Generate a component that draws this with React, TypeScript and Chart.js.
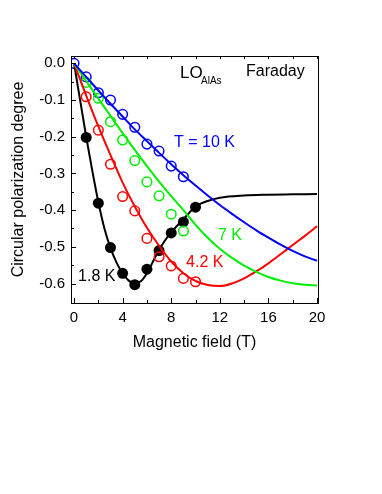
import React, { useEffect, useRef } from 'react';
import { Chart, registerables } from 'chart.js';

Chart.register(...registerables);

// ---- data ----
const fieldMeasured10K = [0, 1, 2, 3, 4, 5, 6, 7, 8, 9];
const polarization10K = [0, -0.037, -0.08, -0.1, -0.139, -0.174, -0.22, -0.239, -0.28, -0.309];

const fieldMeasured7K = [1, 2, 3, 4, 5, 6, 7, 8, 9];
const polarization7K = [-0.052, -0.095, -0.159, -0.209, -0.265, -0.323, -0.361, -0.411, -0.457];

const fieldMeasured42K = [1, 2, 3, 4, 5, 6, 7, 8, 9, 10];
const polarization42K = [-0.091, -0.182, -0.275, -0.363, -0.402, -0.477, -0.527, -0.552, -0.586, -0.595];

const fieldMeasured18K = [1, 2, 3, 4, 5, 6, 7, 8, 9, 10];
const polarization18K = [-0.202, -0.381, -0.502, -0.572, -0.603, -0.561, -0.51, -0.462, -0.432, -0.392];

const fitField = [0, 1, 2, 3, 4, 5, 6, 7, 8, 9, 10, 11, 12, 13, 14, 15, 16, 17, 18, 19, 20];
const fit10K = [0, -0.037, -0.074, -0.11, -0.145, -0.18, -0.212, -0.244, -0.275, -0.305, -0.333, -0.36, -0.386, -0.41, -0.433, -0.455, -0.475, -0.494, -0.511, -0.526, -0.538];
const fit7K = [0, -0.048, -0.096, -0.143, -0.19, -0.236, -0.28, -0.322, -0.362, -0.4, -0.44, -0.475, -0.505, -0.53, -0.551, -0.568, -0.582, -0.592, -0.599, -0.603, -0.605];
const fit42K = [0, -0.088, -0.172, -0.25, -0.325, -0.39, -0.448, -0.497, -0.54, -0.572, -0.593, -0.604, -0.607, -0.6, -0.586, -0.567, -0.545, -0.52, -0.495, -0.47, -0.444];

const fitField18K = [0, 0.5, 1, 1.5, 2, 2.5, 3, 3.5, 4, 4.5, 5, 5.5, 6, 6.5, 7, 7.5, 8, 9, 10, 11, 12, 14, 16, 18, 20];
const fit18K = [0, -0.1, -0.2, -0.292, -0.378, -0.45, -0.503, -0.543, -0.572, -0.592, -0.6, -0.594, -0.572, -0.54, -0.508, -0.482, -0.46, -0.425, -0.39, -0.375, -0.366, -0.36, -0.358, -0.357, -0.356];

const xMajorTicks = [0, 4, 8, 12, 16, 20];
const xMinorTicks = [2, 6, 10, 14, 18];
const yMajorTicks = [0, -0.1, -0.2, -0.3, -0.4, -0.5, -0.6];
const yMinorTicks = [-0.05, -0.15, -0.25, -0.35, -0.45, -0.55];

const FONT = '"Liberation Sans", Arial, sans-serif';
const GREEN = '#00ee00';

const zip = (xs: number[], ys: number[]) => xs.map((x, i) => ({ x, y: ys[i] }));

const framePlugin = {
  id: 'frameAndLabels',
  afterDraw(chart: any) {
    const { ctx, chartArea, scales } = chart;
    const xs = scales.x;
    const ys = scales.y;
    const { left, right, top, bottom } = chartArea;
    ctx.save();
    ctx.strokeStyle = '#000';
    ctx.lineWidth = 1;
    ctx.strokeRect(Math.round(left) + 0.5, Math.round(top) + 0.5, Math.round(right - left), Math.round(bottom - top));
    ctx.beginPath();
    xMajorTicks.forEach((v) => {
      const px = Math.round(xs.getPixelForValue(v)) + 0.5;
      ctx.moveTo(px, bottom);
      ctx.lineTo(px, bottom - 5);
      ctx.moveTo(px, top);
      ctx.lineTo(px, top + 3);
    });
    xMinorTicks.forEach((v) => {
      const px = Math.round(xs.getPixelForValue(v)) + 0.5;
      ctx.moveTo(px, bottom);
      ctx.lineTo(px, bottom - 3);
      ctx.moveTo(px, top);
      ctx.lineTo(px, top + 3);
    });
    yMajorTicks.forEach((v) => {
      const py = Math.round(ys.getPixelForValue(v)) + 0.5;
      ctx.moveTo(left, py);
      ctx.lineTo(left + 5, py);
    });
    yMinorTicks.forEach((v) => {
      const py = Math.round(ys.getPixelForValue(v)) + 0.5;
      ctx.moveTo(left, py);
      ctx.lineTo(left + 3, py);
    });
    ctx.stroke();

    const text = (s: string, x: number, y: number, color: string, size: number) => {
      ctx.fillStyle = color;
      ctx.font = `${size}px ${FONT}`;
      ctx.textAlign = 'left';
      ctx.textBaseline = 'middle';
      ctx.fillText(s, xs.getPixelForValue(x), ys.getPixelForValue(y));
    };
    text('LO', 8.72, -0.026, '#000', 17);
    text('AlAs', 10.45, -0.05, '#000', 10);
    text('Faraday', 14.16, -0.023, '#000', 16);
    text('T = 10 K', 8.23, -0.217, '#0000ff', 16);
    text('7 K', 11.85, -0.47, GREEN, 16);
    text('4.2 K', 9.22, -0.544, '#ff0000', 16);
    text('1.8 K', 0.33, -0.581, '#000', 16);
    ctx.restore();
  },
};

export default function App() {
  const ref = useRef<HTMLCanvasElement>(null);
  useEffect(() => {
    if (!ref.current) return;
    const lineDs = (label: string, xs: number[], ys: number[], color: string) => ({
      label,
      data: zip(xs, ys),
      showLine: true,
      borderColor: color,
      borderWidth: 2,
      pointRadius: 0,
      cubicInterpolationMode: 'monotone' as const,
      fill: false,
    });
    const openDs = (label: string, xs: number[], ys: number[], color: string) => ({
      label,
      data: zip(xs, ys),
      showLine: false,
      borderColor: color,
      backgroundColor: 'rgba(0,0,0,0)',
      pointBorderColor: color,
      pointBackgroundColor: 'rgba(0,0,0,0)',
      pointRadius: 4.8,
      pointBorderWidth: 1.5,
    });
    const chart = new Chart(ref.current, {
      type: 'scatter',
      data: {
        datasets: [
          lineDs('fit 10 K', fitField, fit10K, '#0000ff'),
          lineDs('fit 7 K', fitField, fit7K, GREEN),
          lineDs('fit 4.2 K', fitField, fit42K, '#ff0000'),
          openDs('7 K', fieldMeasured7K, polarization7K, GREEN),
          openDs('4.2 K', fieldMeasured42K, polarization42K, '#ff0000'),
          lineDs('fit 1.8 K', fitField18K, fit18K, '#000000'),
          {
            label: '1.8 K',
            data: zip(fieldMeasured18K, polarization18K),
            showLine: false,
            pointRadius: 5.5,
            pointBorderWidth: 0,
            pointBackgroundColor: '#000',
            pointBorderColor: '#000',
          },
          openDs('10 K', fieldMeasured10K, polarization10K, '#0000ff'),
        ] as any,
      },
      options: {
        animation: false,
        responsive: false,
        devicePixelRatio: 1,
        layout: { padding: { left: 7, right: 64, top: 56, bottom: 142 } },
        plugins: { legend: { display: false }, tooltip: { enabled: false } },
        scales: {
          x: {
            type: 'linear',
            min: -0.25,
            max: 20.08,
            grid: { display: false, drawTicks: false, tickLength: 0 },
            border: { display: false },
            afterBuildTicks: (s: any) => {
              s.ticks = xMajorTicks.map((v) => ({ value: v }));
            },
            afterFit: (s: any) => {
              s.height = 49;
            },
            ticks: {
              padding: 6,
              color: '#000',
              font: { family: FONT, size: 15 },
              maxRotation: 0,
              callback: (v: any) => String(v),
            },
            title: {
              display: true,
              text: 'Magnetic field (T)',
              color: '#000',
              font: { family: FONT, size: 16 },
              padding: 0,
            },
          },
          y: {
            type: 'linear',
            min: -0.653,
            max: 0.02,
            grid: { display: false, drawTicks: false, tickLength: 0 },
            border: { display: false },
            afterBuildTicks: (s: any) => {
              s.ticks = yMajorTicks.map((v) => ({ value: v }));
            },
            afterFit: (s: any) => {
              s.width = 64;
            },
            ticks: {
              padding: 6,
              color: '#000',
              font: { family: FONT, size: 15 },
              callback: (v: any) => Number(v).toFixed(1),
            },
            title: {
              display: true,
              text: 'Circular polarization degree',
              color: '#000',
              font: { family: FONT, size: 16 },
              padding: { top: 2, bottom: 0 },
            },
          },
        },
      },
      plugins: [framePlugin],
    });
    return () => chart.destroy();
  }, []);
  return (
    <div style={{ position: 'fixed', left: 0, top: 0, width: 382, height: 494, background: '#fff' }}>
      <canvas ref={ref} width={382} height={494} />
    </div>
  );
}
